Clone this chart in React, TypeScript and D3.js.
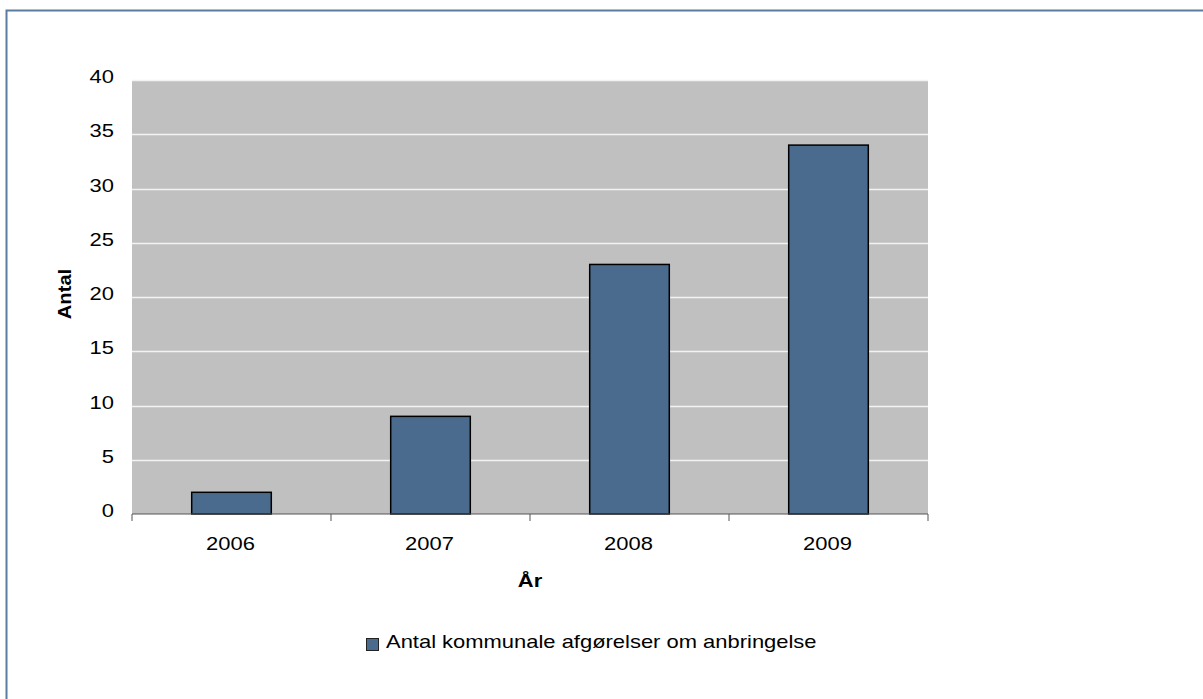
import * as d3 from 'd3';

const years = ['2006', '2007', '2008', '2009'];
const counts = [2, 9, 23, 34];
const yTicks = [0, 5, 10, 15, 20, 25, 30, 35, 40];
const seriesName = 'Antal kommunale afgørelser om anbringelse';

// the reference text is drawn wider than it is tall
const stretch = 1.22;

export default function App() {
    const width = 1203;
    const height = 699;

    const plot = { left: 132, right: 928, top: 80, bottom: 514 };

    const xScale = d3
        .scaleBand()
        .domain(years)
        .range([plot.left, plot.right])
        .paddingInner(0.6)
        .paddingOuter(0.3);

    const yScale = d3.scaleLinear().domain([0, 40]).range([plot.bottom, plot.top]);

    const step = (plot.right - plot.left) / years.length;
    const boundaries = d3.range(years.length + 1).map((i) => plot.left + i * step);

    const font = 'Liberation Sans, Arial, sans-serif';

    return (
        <svg
            width={width}
            height={height}
            viewBox={`0 0 ${width} ${height}`}
            style={{ position: 'absolute', left: 0, top: 0, background: '#fff' }}
            fontFamily={font}
            fontSize={18}
        >
            {/* frame, clipped at the right and bottom */}
            <rect x={6.5} y={10.5} width={1300} height={800} fill='none' stroke='#5a7ca0' strokeWidth={2} />

            <rect
                x={plot.left}
                y={plot.top}
                width={plot.right - plot.left}
                height={plot.bottom - plot.top}
                fill='#c0c0c0'
            />

            {yTicks.map((t) => (
                <g key={t} transform={`translate(0, ${Math.round(yScale(t))})`}>
                    {t > 0 && (
                        <line x1={plot.left} x2={plot.right} y1={0.5} y2={0.5} stroke='#f2f2f2' strokeWidth={1.5} />
                    )}
                    <text
                        transform={`translate(114, -2) scale(${stretch}, 1)`}
                        textAnchor='end'
                        dominantBaseline='middle'
                        fill='#000'
                    >
                        {t}
                    </text>
                </g>
            ))}

            {years.map((yr, i) => (
                <rect
                    key={yr}
                    x={xScale(yr) as number}
                    y={yScale(counts[i])}
                    width={xScale.bandwidth()}
                    height={yScale(0) - yScale(counts[i])}
                    fill='#4a6a8e'
                    stroke='#000'
                    strokeWidth={1.5}
                />
            ))}

            <line x1={plot.left} x2={plot.right} y1={plot.bottom} y2={plot.bottom} stroke='#555' strokeWidth={1} />
            {boundaries.map((b) => (
                <line key={b} x1={b} x2={b} y1={plot.bottom} y2={plot.bottom + 7} stroke='#555' strokeWidth={1} />
            ))}

            {years.map((yr) => (
                <text
                    key={yr}
                    transform={`translate(${(xScale(yr) as number) + xScale.bandwidth() / 2 - 1}, 545) scale(${stretch}, 1)`}
                    textAnchor='middle'
                    dominantBaseline='middle'
                >
                    {yr}
                </text>
            ))}

            <text
                transform={`translate(530, 582) scale(${stretch}, 1)`}
                textAnchor='middle'
                dominantBaseline='middle'
                fontWeight='bold'
            >
                År
            </text>
            <text
                transform={`translate(66, 294) rotate(-90) scale(1.12, 1)`}
                textAnchor='middle'
                dominantBaseline='middle'
                fontWeight='bold'
            >
                Antal
            </text>

            <rect x={366.5} y={638.5} width={12} height={12} fill='#4a6a8e' stroke='#222' strokeWidth={1} />
            <text transform={`translate(386, 643) scale(${stretch}, 1)`} dominantBaseline='middle'>
                {seriesName}
            </text>
        </svg>
    );
}
